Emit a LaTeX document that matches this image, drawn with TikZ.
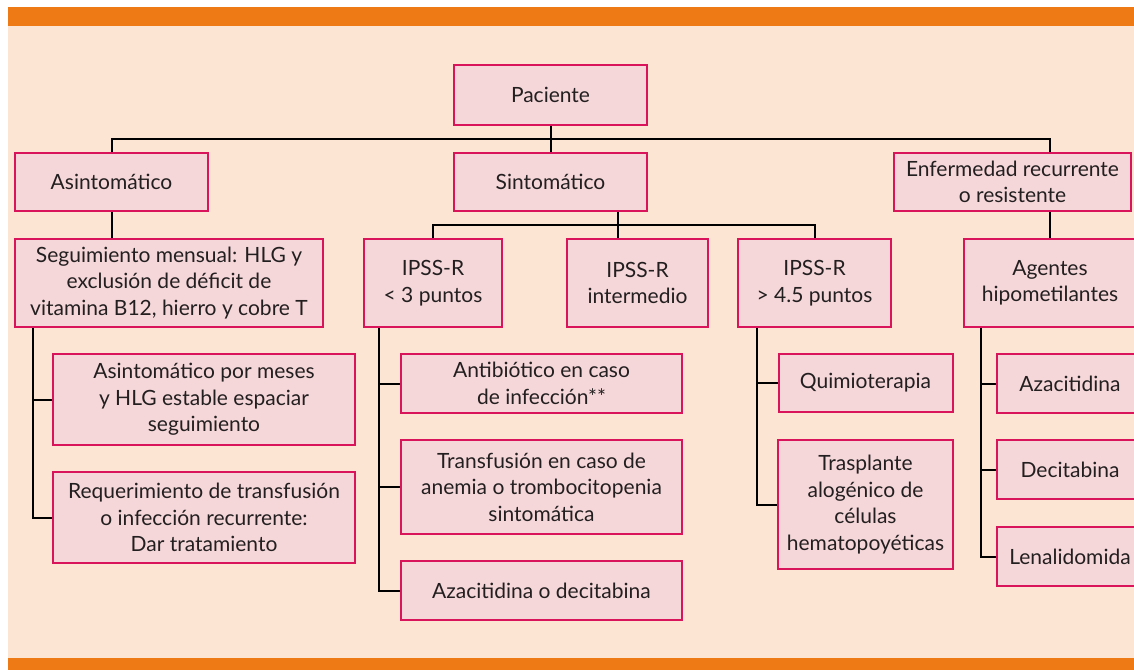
\documentclass[tikz,border=0pt]{standalone}
\usepackage{fontspec}
\setmainfont{Lato}
\usetikzlibrary{positioning}
\definecolor{bandorange}{RGB}{238,122,22}
\definecolor{peach}{RGB}{253,229,211}
\definecolor{boxpink}{RGB}{245,215,217}
\definecolor{boxred}{RGB}{218,20,90}
\definecolor{inkgray}{RGB}{35,31,32}

\begin{document}
\begin{tikzpicture}[x=1pt, y=-1pt]
    \tikzstyle{box} = [rectangle, draw=boxred, fill=boxpink, line width=2pt, align=center, text=inkgray, inner sep=0pt, font=\fontsize{21}{26.5}\selectfont]
    \tikzstyle{link} = [draw=black, line width=2pt]

    % Frame and bands
    \useasboundingbox (0,0) rectangle (1134,670);
    \clip (0,0) rectangle (1134,670);
    \fill[white] (0,0) rectangle (1134,670);
    \fill[peach] (8,26) rectangle (1134,658);
    \fill[bandorange] (8,7) rectangle (1134,26);
    \fill[bandorange] (8,658) rectangle (1134,670);

    % First levels
    \node [box, minimum width=193pt, minimum height=60pt] (paciente) at (550.5,95) {Paciente};
    \node [box, minimum width=193pt, minimum height=58pt] (asin) at (111.5,182) {Asintomático};
    \node [box, minimum width=193pt, minimum height=58pt] (sinto) at (550.5,182) {Sintomático};
    \node [box, minimum width=237pt, minimum height=58pt] (enferm) at (1012.5,182) {Enfermedad recurrente\\o resistente};

    % Second level
    \node [box, minimum width=308pt, minimum height=88pt] (seguim) at (169,283) {Seguimiento mensual: HLG y\\exclusión de déficit de\\vitamina B12, hierro y cobre T};
    \node [box, minimum width=138pt, minimum height=88pt] (ipss1) at (433,283) {IPSS-R\\< 3 puntos};
    \node [box, minimum width=141pt, minimum height=88pt] (ipss2) at (637.5,283) {IPSS-R\\intermedio};
    \node [box, minimum width=153pt, minimum height=88pt] (ipss3) at (814.5,283) {IPSS-R\\> 4.5 puntos};
    \node [box, minimum width=172pt, minimum height=88pt] (agentes) at (1050,283) {Agentes\\hipometilantes};

    % Third level
    \node [box, minimum width=302pt, minimum height=91pt] (asmeses) at (204,399.5) {Asintomático por meses\\y HLG estable espaciar\\seguimiento};
    \node [box, minimum width=302pt, minimum height=91pt] (requer) at (204,517.5) {Requerimiento de transfusión\\o infección recurrente:\\Dar tratamiento};
    \node [box, minimum width=281pt, minimum height=59pt] (antib) at (541.5,383.5) {Antibiótico en caso\\de infección**};
    \node [box, minimum width=281pt, minimum height=94pt] (transf) at (541.5,487) {Transfusión en caso de\\anemia o trombocitopenia\\sintomática};
    \node [box, minimum width=281pt, minimum height=59pt] (azadeci) at (541.5,590.5) {Azacitidina o decitabina};
    \node [box, minimum width=174pt, minimum height=58pt] (quimio) at (865.5,383) {Quimioterapia};
    \node [box, minimum width=175pt, minimum height=129pt] (traspl) at (865.5,504.5) {Trasplante\\alogénico de\\células\\hematopoyéticas};
    \node [box, minimum width=146pt, minimum height=59pt] (azaci) at (1070,383.5) {Azacitidina};
    \node [box, minimum width=146pt, minimum height=59pt] (decit) at (1070,469.5) {Decitabina};
    \node [box, minimum width=146pt, minimum height=59pt] (lenal) at (1070,556.5) {Lenalidomida};

    % Connectors between levels
    \coordinate (bus) at (550.5,139);
    \draw [link] (paciente.south) -- (sinto.north);
    \draw [link] (asin.north) |- (bus) -| (agentes.north |- enferm.north);
    \draw [link] (agentes.north |- enferm.south) -- (agentes.north);
    \draw [link] (asin.south) -- (asin.south |- seguim.north);
    \coordinate (sbus) at (617.5,225);
    \draw [link] (sinto.south -| sbus) -- (ipss2.north -| sbus);
    \draw [link] (ipss1.north) |- (sbus) -| (ipss3.north);

    % Side branches
    \coordinate (gx) at (33,0);
    \draw [link] (seguim.south -| gx) |- (asmeses.west);
    \draw [link] (seguim.south -| gx) |- (requer.west);
    \coordinate (ax) at (379,0);
    \draw [link] (ipss1.south -| ax) |- (antib.west);
    \draw [link] (ipss1.south -| ax) |- (transf.west);
    \draw [link] (ipss1.south -| ax) |- (azadeci.west);
    \coordinate (qx) at (757,0);
    \draw [link] (ipss3.south -| qx) |- (quimio.west);
    \draw [link] (ipss3.south -| qx) |- (traspl.west);
    \coordinate (hx) at (981,0);
    \draw [link] (agentes.south -| hx) |- (azaci.west);
    \draw [link] (agentes.south -| hx) |- (decit.west);
    \draw [link] (agentes.south -| hx) |- (lenal.west);
\end{tikzpicture}
\end{document}
